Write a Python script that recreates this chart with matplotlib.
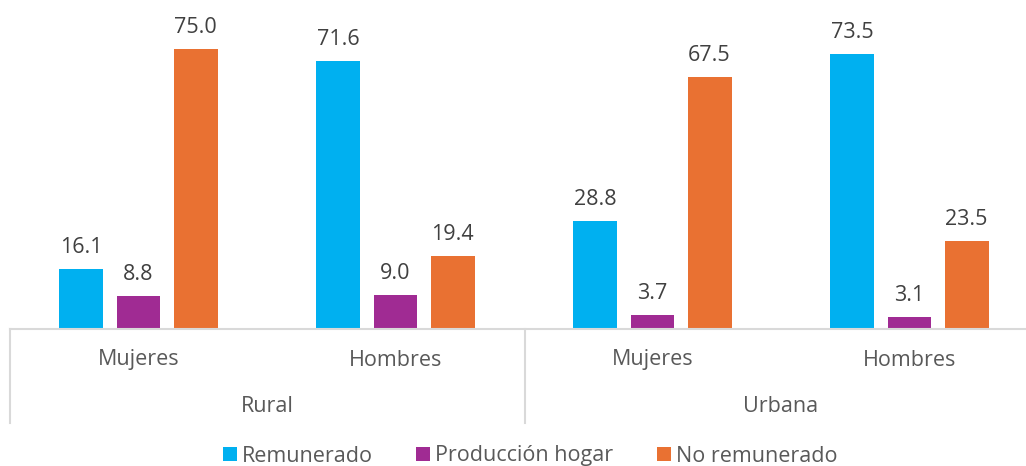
import matplotlib
matplotlib.use("Agg")
import matplotlib.pyplot as plt
from matplotlib.lines import Line2D
from matplotlib.patches import Patch
import numpy as np

plt.rcParams['font.family'] = ['Open Sans', 'DejaVu Sans']

areas = ["Rural", "Urbana"]
sexes = ["Mujeres", "Hombres", "Mujeres", "Hombres"]
series = ["Remunerado", "Producción hogar", "No remunerado"]
remunerado = [16.1, 71.6, 28.8, 73.5]
produccion = [8.8, 9.0, 3.7, 3.1]
no_remunerado = [75.0, 19.4, 67.5, 23.5]
colors = ["#00B0F0", "#A02B93", "#E97132"]

W, H = 1026, 466
fig = plt.figure(figsize=(W / 100, H / 100), dpi=100)
left_px, right_px, base_px, top_px = 10, 1038, 329, 30
ax = fig.add_axes([left_px / W, (H - base_px) / H, (right_px - left_px) / W, (base_px - top_px) / H])

FS = 15.5
x = np.arange(len(sexes))
width = 0.171
offset = 0.222
vals = [remunerado, produccion, no_remunerado]
for i, (v, c) in enumerate(zip(vals, colors)):
    bars = ax.bar(x + (i - 1) * offset, v, width, color=c, label=series[i], zorder=2)
    for b, val in zip(bars, v):
        ax.annotate(f"{val:.1f}", (b.get_x() + b.get_width() / 2, b.get_height()),
                    xytext=(0, 8), textcoords="offset points", ha="center", va="bottom",
                    fontsize=FS, color="#404040", annotation_clip=False)

ax.set_xlim(-0.5, len(sexes) - 0.5)
ax.set_ylim(0, 80)
ax.axis("off")

# baseline
line_color = "#D9D9D9"
fig.add_artist(Line2D([left_px / W, 1.0], [(H - base_px) / H] * 2, color=line_color, lw=1.5))
# vertical separators
for xp in [left_px, 525, right_px]:
    fig.add_artist(Line2D([xp / W] * 2, [(H - base_px) / H, (H - 423) / H], color=line_color, lw=1.5))

# category labels
for i, s in enumerate(sexes):
    ax.text(i, -31 / 299 * 80, s, ha="center", va="center", fontsize=FS, color="#595959", clip_on=False)
for j, a in enumerate(areas):
    ax.text(2 * j + 0.5, -78 / 299 * 80, a, ha="center", va="center", fontsize=FS, color="#595959", clip_on=False)

handles = [Patch(facecolor=c, label=s) for c, s in zip(colors, series)]
fig.legend(handles=handles, loc="center", bbox_to_anchor=(530 / W, (H - 456) / H), ncol=3,
           frameon=False, fontsize=FS, handlelength=0.65, handleheight=0.65,
           handletextpad=0.25, columnspacing=2.0, labelcolor="#595959")

fig.savefig("out.png", dpi=100)
